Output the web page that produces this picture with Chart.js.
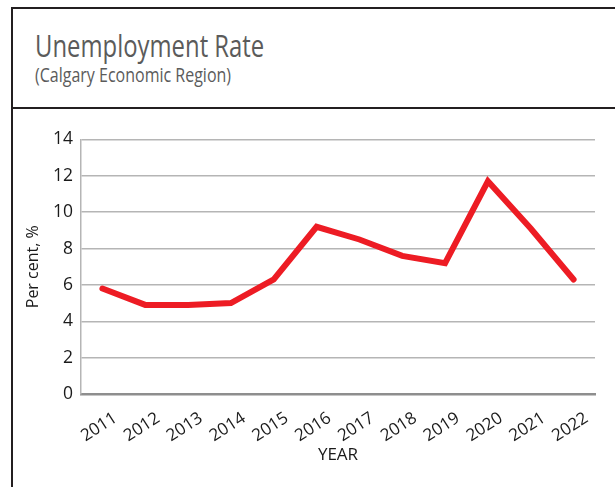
<!DOCTYPE html>
<html>
<head>
<meta charset="utf-8">
<script src="https://cdn.jsdelivr.net/npm/chart.js@4.4.1/dist/chart.umd.min.js"></script>
<style>
    html, body { margin: 0; padding: 0; background: #fff; width: 615px; height: 487px; overflow: hidden; }
    .frame-top { position: absolute; left: 11px; top: 7px; width: 700px; height: 0; border-top: 2px solid #231f20; }
    .frame-left { position: absolute; left: 11px; top: 7px; width: 0; height: 600px; border-left: 2px solid #231f20; }
    .frame-sep { position: absolute; left: 11px; top: 107px; width: 700px; height: 0; border-top: 2px solid #231f20; }
    .heading { position: absolute; left: 35px; top: 27px; font-family: "Open Sans", sans-serif; color: #5b5b5b; white-space: nowrap; }
    .heading h1 { margin: 0; font-size: 31px; font-weight: 400; line-height: 36px; transform: scaleX(0.77); transform-origin: left top; }
    .heading h2 { margin: 0; font-size: 20px; font-weight: 400; line-height: 24px; transform: scaleX(0.8); transform-origin: left top; }
    #chart-wrap { position: absolute; left: 13px; top: 110px; width: 602px; height: 377px; }
</style>
</head>
<body>
<div class="frame-top"></div>
<div class="frame-left"></div>
<div class="frame-sep"></div>
<div class="heading">
    <h1>Unemployment Rate</h1>
    <h2>(Calgary Economic Region)</h2>
</div>
<div id="chart-wrap"><canvas id="rate-chart"></canvas></div>
<script>
// Calgary economic region, annual unemployment rate (%)
const years = ['2011', '2012', '2013', '2014', '2015', '2016', '2017', '2018', '2019', '2020', '2021', '2022'];
const rates = [5.8, 4.9, 4.9, 5.0, 6.3, 9.2, 8.5, 7.6, 7.2, 11.7, 9.1, 6.3];
const yTicks = [0, 2, 4, 6, 8, 10, 12, 14];

const lineRed = '#ed1c24';
const gridGray = '#b5b5b5';
const axisGray = '#8e8e8e';
const textColor = '#1a1a1a';

new Chart(document.getElementById('rate-chart'), {
    type: 'line',
    data: {
        labels: years,
        datasets: [{
            label: 'Unemployment rate',
            data: rates,
            borderColor: lineRed,
            borderWidth: 6,
            borderCapStyle: 'round',
            borderJoinStyle: 'miter',
            tension: 0,
            pointRadius: 0,
            fill: false
        }]
    },
    options: {
        responsive: true,
        maintainAspectRatio: false,
        animation: false,
        layout: { padding: { top: 29.5, right: 20, left: 0, bottom: 0 } },
        plugins: {
            legend: { display: false },
            tooltip: { enabled: false }
        },
        scales: {
            x: {
                offset: true,
                grid: { display: false },
                border: { color: axisGray, width: 2.5 },
                ticks: {
                    autoSkip: false,
                    minRotation: 33,
                    maxRotation: 33,
                    padding: 6,
                    labelOffset: 13,
                    color: textColor,
                    font: { family: 'Open Sans', size: 17 }
                },
                title: {
                    display: true,
                    text: 'YEAR',
                    color: textColor,
                    font: { family: 'Open Sans', size: 17 },
                    padding: { top: 0, bottom: 22 }
                },
                afterFit: (scale) => { scale.height = 93; }
            },
            y: {
                min: 0,
                max: 14,
                afterBuildTicks: (scale) => { scale.ticks = yTicks.map(v => ({ value: v })); },
                grid: {
                    color: (c) => c.tick && c.tick.value === 0 ? 'rgba(0,0,0,0)' : gridGray,
                    lineWidth: 1.5,
                    drawTicks: false
                },
                border: { color: gridGray, width: 1.5 },
                ticks: {
                    padding: 8,
                    color: textColor,
                    font: { family: 'Open Sans', size: 17.5 }
                },
                title: {
                    display: true,
                    text: 'Per cent, %',
                    color: textColor,
                    font: { family: 'Open Sans', size: 16 },
                    padding: { top: 11, bottom: 0 }
                },
                afterFit: (scale) => { scale.width = 68; }
            }
        }
    }
});
</script>
</body>
</html>
